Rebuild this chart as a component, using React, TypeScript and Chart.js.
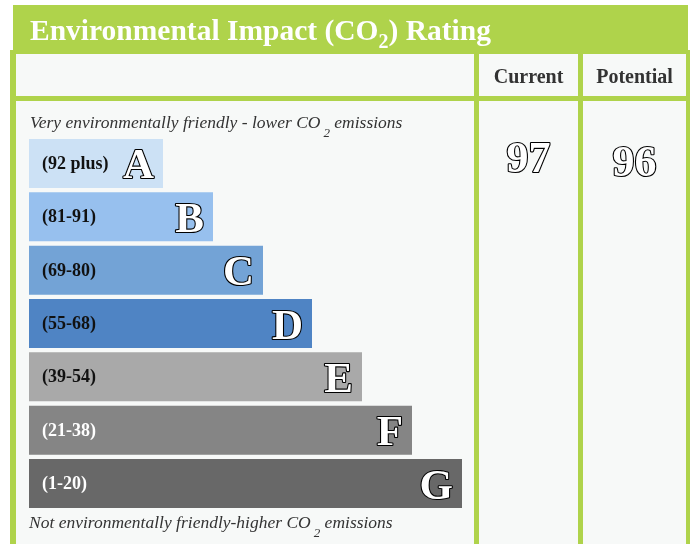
import { useEffect, useRef } from "react";
import { Chart, registerables } from "chart.js";

Chart.register(...registerables);

// ---- data ----
const bands = ["A", "B", "C", "D", "E", "F", "G"];
const bandRanges = ["(92 plus)", "(81-91)", "(69-80)", "(55-68)", "(39-54)", "(21-38)", "(1-20)"];
const barLengths = [26.8, 36.8, 46.8, 56.6, 66.6, 76.6, 86.6];
const bandColors = ["#cce1f5", "#97c0ee", "#73a3d6", "#4f84c4", "#a9a9a9", "#858585", "#686868"];
const rangeTextColors = ["#111111", "#111111", "#111111", "#111111", "#111111", "#ffffff", "#ffffff"];
const columnHeaders = ["Current", "Potential"];
const ratings = [97, 96];
const titleParts = ["Environmental Impact (CO", "2", ") Rating"];
const topNote = ["Very environmentally friendly - lower CO", "2", " emissions"];
const bottomNote = ["Not environmentally friendly-higher CO", "2", " emissions"];

const GREEN = "#afd34b";
const LIGHT = "#f7f9f8";
const SERIF = '"Liberation Serif", "Times New Roman", serif';

function drawSubText(
  ctx: CanvasRenderingContext2D,
  parts: string[],
  x: number,
  y: number,
  font: string,
  subFont: string,
  subDy: number,
  gap: number,
  color: string
) {
  ctx.fillStyle = color;
  ctx.textAlign = "left";
  ctx.textBaseline = "alphabetic";
  ctx.font = font;
  ctx.fillText(parts[0], x, y);
  let cx = x + ctx.measureText(parts[0]).width + gap;
  ctx.font = subFont;
  ctx.fillText(parts[1], cx, y + subDy);
  cx += ctx.measureText(parts[1]).width;
  ctx.font = font;
  ctx.fillText(parts[2], cx, y);
}

function outlined(ctx: CanvasRenderingContext2D, text: string, x: number, y: number, font: string, align: CanvasTextAlign) {
  ctx.font = font;
  ctx.textAlign = align;
  ctx.textBaseline = "alphabetic";
  ctx.lineJoin = "round";
  ctx.lineWidth = 2.2;
  ctx.strokeStyle = "#000000";
  ctx.strokeText(text, x, y);
  ctx.fillStyle = "#ffffff";
  ctx.fillText(text, x, y);
}

const tablePlugin = {
  id: "epcTable",
  beforeDraw(chart: any) {
    const ctx = chart.ctx as CanvasRenderingContext2D;
    ctx.save();
    // body frame
    ctx.fillStyle = GREEN;
    ctx.fillRect(10, 50, 680, 494);
    // header bar
    ctx.fillRect(13, 5, 675, 49);
    // cells
    ctx.fillStyle = LIGHT;
    const cols = [[16, 474], [479, 578], [583, 686]];
    for (const [a, b] of cols) {
      ctx.fillRect(a, 54, b - a, 42);
      ctx.fillRect(a, 101, b - a, 443);
    }
    // title
    drawSubText(ctx, titleParts, 30, 40, `bold 29.5px ${SERIF}`, `bold 20px ${SERIF}`, 8, 0, "#ffffff");
    // column headers
    ctx.fillStyle = "#333333";
    ctx.font = `bold 20px ${SERIF}`;
    ctx.textAlign = "center";
    ctx.textBaseline = "alphabetic";
    ctx.fillText(columnHeaders[0], (cols[1][0] + cols[1][1]) / 2, 83);
    ctx.fillText(columnHeaders[1], (cols[2][0] + cols[2][1]) / 2, 83);
    // notes
    drawSubText(ctx, topNote, 30, 128, `italic 17.5px ${SERIF}`, `italic 13px ${SERIF}`, 9, 3, "#333333");
    drawSubText(ctx, bottomNote, 29, 528, `italic 17.5px ${SERIF}`, `italic 13px ${SERIF}`, 9, 3, "#333333");
    // ratings
    outlined(ctx, String(ratings[0]), (cols[1][0] + cols[1][1]) / 2, 172, `bold 44px ${SERIF}`, "center");
    outlined(ctx, String(ratings[1]), (cols[2][0] + cols[2][1]) / 2, 176, `bold 44px ${SERIF}`, "center");
    ctx.restore();
  },
  afterDatasetsDraw(chart: any) {
    const ctx = chart.ctx as CanvasRenderingContext2D;
    const meta = chart.getDatasetMeta(0);
    ctx.save();
    meta.data.forEach((bar: any, i: number) => {
      const left = bar.base;
      const right = bar.x;
      const cy = bar.y;
      ctx.font = `bold 18px ${SERIF}`;
      ctx.textAlign = "left";
      ctx.textBaseline = "middle";
      ctx.fillStyle = rangeTextColors[i];
      ctx.fillText(bandRanges[i], left + 13, cy + 1);
      outlined(ctx, bands[i], right - 9, cy + 15, `bold 43px ${SERIF}`, "right");
    });
    ctx.restore();
  },
};

export default function App() {
  const ref = useRef<HTMLCanvasElement | null>(null);
  useEffect(() => {
    if (!ref.current) return;
    const chart = new Chart(ref.current, {
      type: "bar",
      data: {
        labels: bands,
        datasets: [
          {
            data: barLengths,
            backgroundColor: bandColors,
            borderWidth: 0,
            barPercentage: 0.919,
            categoryPercentage: 1,
          },
        ],
      },
      options: {
        indexAxis: "y",
        responsive: false,
        animation: false,
        devicePixelRatio: 1,
        layout: { padding: { left: 29, right: 222, top: 136.8, bottom: 33.8 } },
        scales: {
          x: { type: "linear", min: 0, max: 89, display: false },
          y: { type: "category", display: false },
        },
        plugins: {
          legend: { display: false },
          tooltip: { enabled: false },
          title: { display: false },
        },
      },
      plugins: [tablePlugin],
    });
    return () => chart.destroy();
  }, []);
  return (
    <div style={{ position: "absolute", left: 0, top: 0, width: 696, height: 544, background: "#ffffff" }}>
      <canvas ref={ref} width={696} height={544} style={{ display: "block" }} />
    </div>
  );
}
